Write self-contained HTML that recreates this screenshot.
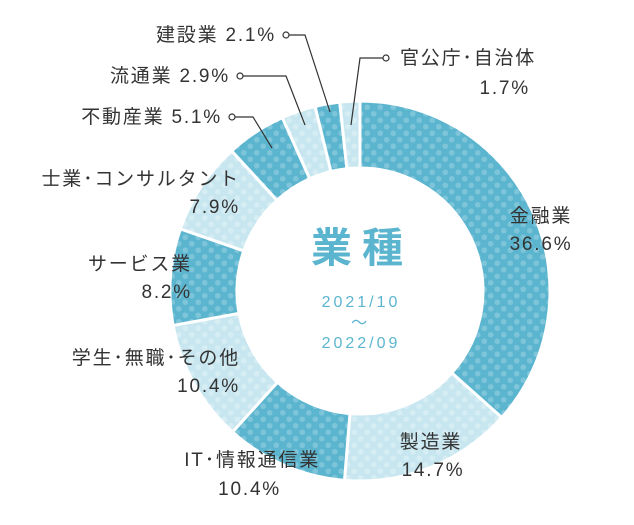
<!DOCTYPE html>
<html><head><meta charset="utf-8">
<style>
html,body{margin:0;padding:0;background:#fff;}
svg{display:block;}
text{font-family:"Liberation Sans","Noto Sans CJK JP",sans-serif;fill:#333;font-size:19px;letter-spacing:1.8px;}
.c{fill:#5bb5cf;}
</style></head><body>
<svg id="s" width="634" height="525" viewBox="0 0 634 525" xmlns="http://www.w3.org/2000/svg">
<defs>
<pattern id="pd" width="13" height="13" patternUnits="userSpaceOnUse">
<rect width="13" height="13" fill="#5bb5cf"/>
<circle cx="3.25" cy="3.25" r="2.8" fill="#7ec5da"/><circle cx="9.75" cy="9.75" r="2.8" fill="#7ec5da"/>
</pattern>
<pattern id="pl" width="13" height="13" patternUnits="userSpaceOnUse">
<rect width="13" height="13" fill="#c7e6ef"/>
<circle cx="3.25" cy="3.25" r="2.8" fill="#d6edf4"/><circle cx="9.75" cy="9.75" r="2.8" fill="#d6edf4"/>
</pattern>
</defs>
<g id="ring"></g>
<g fill="none" stroke="#333" stroke-width="1.2">
<polyline points="289,35 305,35 330,112"/>
<circle cx="286" cy="35" r="3" fill="#fff"/>
<polyline points="243,76 286,76 305,125"/>
<circle cx="240" cy="76" r="3" fill="#fff"/>
<polyline points="235,117 253,117 272,148"/>
<circle cx="232" cy="117" r="3" fill="#fff"/>
<polyline points="383,58 360,58 351,125"/>
<circle cx="386" cy="58" r="3" fill="#fff"/>
</g>
<text x="276" y="41" text-anchor="end">建設業 2.1%</text>
<text x="230" y="82" text-anchor="end">流通業 2.9%</text>
<text x="222" y="123" text-anchor="end">不動産業 5.1%</text>
<text x="400" y="64">官公庁･自治体</text>
<text x="530" y="94" text-anchor="end">1.7%</text>
<text x="240" y="185" text-anchor="end">士業･コンサルタント</text>
<text x="240" y="213" text-anchor="end">7.9%</text>
<text x="192" y="270" text-anchor="end">サービス業</text>
<text x="192" y="298" text-anchor="end">8.2%</text>
<text x="240" y="364" text-anchor="end">学生･無職･その他</text>
<text x="240" y="392" text-anchor="end">10.4%</text>
<text x="320" y="466" text-anchor="end">IT･情報通信業</text>
<text x="281" y="495" text-anchor="end">10.4%</text>
<text x="541" y="222" text-anchor="middle">金融業</text>
<text x="541" y="250" text-anchor="middle">36.6%</text>
<text x="431" y="448" text-anchor="middle">製造業</text>
<text x="433" y="476" text-anchor="middle">14.7%</text>
<text class="c" x="362" y="262" text-anchor="middle" style="font-size:41px;letter-spacing:10px;font-weight:bold">業種</text>
<text class="c" x="361" y="307" text-anchor="middle" style="font-size:16px;letter-spacing:3px">2021/10</text>
<text class="c" x="360" y="328" text-anchor="middle" style="font-size:16px">～</text>
<text class="c" x="361" y="348" text-anchor="middle" style="font-size:16px;letter-spacing:3px">2022/09</text>
</svg>
<script>
(function(){
var cx=360,cy=291,R=190,r=123;
var v=[36.6,14.7,10.4,10.4,8.2,7.9,5.1,2.9,2.1,1.7];
var tot=0;v.forEach(function(x){tot+=x;});
var a=0,g=document.getElementById('ring'),ns='http://www.w3.org/2000/svg';
function pt(rad,ang){return [cx+rad*Math.sin(ang),cy-rad*Math.cos(ang)];}
v.forEach(function(x,i){
var a0=a,a1=a+x/tot*2*Math.PI;a=a1;
var p1=pt(R,a0),p2=pt(R,a1),p3=pt(r,a1),p4=pt(r,a0);
var lg=(a1-a0)>Math.PI?1:0;
var d='M'+p1+' A'+R+','+R+' 0 '+lg+' 1 '+p2+' L'+p3+' A'+r+','+r+' 0 '+lg+' 0 '+p4+'Z';
var p=document.createElementNS(ns,'path');
p.setAttribute('d',d);p.setAttribute('fill',i%2?'url(#pl)':'url(#pd)');
p.setAttribute('stroke','#fff');p.setAttribute('stroke-width','3');
g.appendChild(p);
});
})();
</script>
</body></html>
